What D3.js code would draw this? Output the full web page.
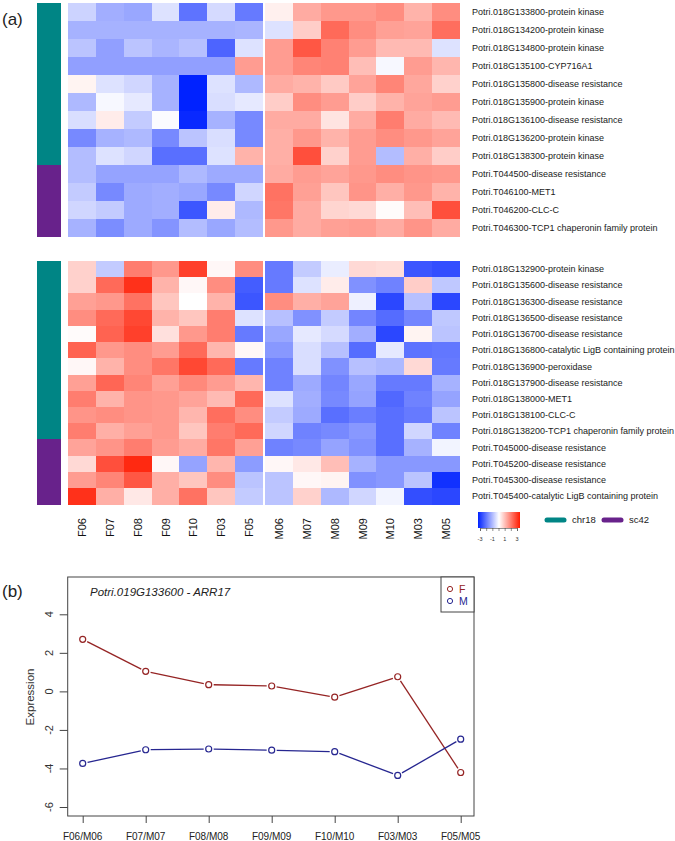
<!DOCTYPE html>
<html><head><meta charset="utf-8">
<script src="https://cdn.jsdelivr.net/npm/d3@7"></script>
<style>body{margin:0;background:#fff} svg{display:block;background:#fff} text{font-family:"Liberation Sans",Arial,Helvetica,sans-serif}</style>
</head><body><svg id="c" width="675" height="841"></svg>
<script>
// ---------------- DATA ----------------
const columns = ["F06","F07","F08","F09","F10","F03","F05","M06","M07","M08","M09","M10","M03","M05"];

const topGenes = [
 "Potri.018G133800-protein kinase","Potri.018G134200-protein kinase","Potri.018G134800-protein kinase",
 "Potri.018G135100-CYP716A1","Potri.018G135800-disease resistance","Potri.018G135900-protein kinase",
 "Potri.018G136100-disease resistance","Potri.018G136200-protein kinase","Potri.018G138300-protein kinase",
 "Potri.T044500-disease resistance","Potri.T046100-MET1","Potri.T046200-CLC-C",
 "Potri.T046300-TCP1 chaperonin family protein"];
const topGroups = ["chr18","chr18","chr18","chr18","chr18","chr18","chr18","chr18","chr18","sc42","sc42","sc42","sc42"];
const topValues = [
 [-0.6,-1.1,-1.2,-0.4,-1.9,-0.5,-1.8, 0.2,1.1,1.35,1.35,1.5,1.0,1.5],
 [-1.05,-1.05,-1.05,-1.05,-1.05,-1.05,-1.0, -0.4,0.65,1.95,1.5,1.25,1.2,1.9],
 [-0.8,-1.3,-0.8,-1.0,-0.85,-2.1,-0.4, 1.3,2.2,1.65,1.3,0.9,0.9,-0.4],
 [-1.3,-1.3,-1.3,-1.3,-1.3,-1.3,1.3, 1.3,1.6,1.65,0.85,-0.1,1.3,0.95],
 [0.15,-0.4,-0.55,-1.05,-3.0,-0.4,-0.95, 1.1,1.0,0.7,1.2,1.6,1.15,0.6],
 [-0.95,-0.1,-0.3,-1.05,-3.0,-0.45,-0.3, 0.65,1.5,1.3,0.65,1.0,1.2,1.3],
 [-0.45,0.25,-0.7,-0.05,-2.9,-1.05,-1.6, 1.1,1.1,0.35,1.1,1.7,1.1,0.9],
 [-1.6,-1.05,-0.95,-1.6,-0.8,-0.45,-1.6, 1.05,1.35,1.0,1.3,1.5,1.35,1.2],
 [-0.9,-0.4,-0.55,-1.95,-1.95,-0.4,1.0, 1.05,2.3,0.6,1.3,-0.9,1.05,0.65],
 [-0.9,-1.25,-1.25,-1.25,-0.95,-1.15,-1.15, 1.1,1.3,1.2,1.35,1.5,1.4,1.35],
 [-0.7,-1.6,-1.15,-1.1,-1.2,-1.6,-0.55, 1.85,1.25,0.75,1.4,1.05,1.35,1.0],
 [-0.55,-0.7,-1.15,-1.1,-2.3,0.25,-0.95, 1.8,1.1,0.55,0.5,0.05,0.85,2.3],
 [-1.05,-1.55,-1.15,-1.45,-0.9,-1.2,-0.9, 1.35,1.1,1.25,1.3,1.1,1.4,1.1]
];

const bottomGenes = [
 "Potri.018G132900-protein kinase","Potri.018G135600-disease resistance","Potri.018G136300-disease resistance",
 "Potri.018G136500-disease resistance","Potri.018G136700-disease resistance",
 "Potri.018G136800-catalytic LigB containing protein","Potri.018G136900-peroxidase",
 "Potri.018G137900-disease resistance","Potri.018G138000-MET1","Potri.018G138100-CLC-C",
 "Potri.018G138200-TCP1 chaperonin family protein","Potri.T045000-disease resistance",
 "Potri.T045200-disease resistance","Potri.T045300-disease resistance",
 "Potri.T045400-catalytic LigB containing protein"];
const bottomGroups = ["chr18","chr18","chr18","chr18","chr18","chr18","chr18","chr18","chr18","chr18","chr18","sc42","sc42","sc42","sc42"];
const bottomValues = [
 [0.6,-0.7,1.7,1.35,2.5,0.1,1.5, -1.8,-0.7,-0.25,0.5,0.45,-2.3,-2.4],
 [0.6,1.95,2.7,1.0,0.1,1.5,-2.2, -1.8,-0.4,0.25,-1.5,-1.7,0.65,-0.75],
 [1.25,1.35,1.85,0.75,0.0,1.0,-2.3, 1.5,1.05,1.2,-0.2,-2.5,-0.85,-2.5],
 [1.5,1.95,2.4,1.0,0.75,1.7,-0.4, -0.85,-1.5,-0.7,-1.65,-2.0,-1.65,-0.75],
 [0.05,2.05,2.5,0.4,1.35,1.7,-1.8, -1.2,-0.3,-0.5,-1.1,-2.5,0.15,-0.8],
 [2.05,1.35,1.5,1.3,1.95,0.95,0.1, -1.4,-0.45,-0.85,-2.0,-0.3,-1.9,-1.85],
 [0.1,1.0,1.5,1.8,2.4,1.95,-1.8, -1.7,-0.45,-1.5,-0.85,-0.95,0.5,-1.8],
 [1.25,2.0,1.6,1.25,1.55,1.3,0.95, -1.7,-1.15,-1.65,-1.2,-1.8,-1.8,-1.05],
 [1.7,1.0,1.4,1.35,1.2,0.9,1.95, -0.4,-1.1,-1.6,-1.25,-2.05,-1.7,-1.25],
 [1.4,1.5,1.4,1.35,0.95,1.9,1.5, -0.7,-1.15,-1.95,-1.75,-1.95,-1.8,-0.8],
 [1.7,1.05,1.25,1.35,0.75,1.7,1.95, -0.55,-1.7,-1.6,-1.4,-1.95,-0.55,-1.7],
 [1.2,1.4,1.7,1.3,1.1,1.8,1.25, -1.7,-1.6,-1.25,-1.5,-1.95,-1.05,-0.15],
 [0.5,2.3,2.8,0.1,-1.25,0.95,-1.35, 0.1,0.3,0.85,-1.05,-1.4,-1.4,-1.4],
 [1.3,1.6,2.2,1.05,0.75,1.5,-0.8, -0.8,0.1,0.15,-1.5,-1.4,-0.8,-2.8],
 [2.7,1.05,0.3,1.05,1.85,0.75,-0.7, -0.8,0.6,-0.95,-0.55,-0.15,-2.4,-2.5]
];

const groupNames = ["chr18","sc42"];
const colorTicks = [-3,-1,1,3];

const pairLabels = ["F06/M06","F07/M07","F08/M08","F09/M09","F10/M10","F03/M03","F05/M05"];
const femaleExpr = [2.70,1.04,0.35,0.28,-0.30,0.76,-4.21];
const maleExpr   = [-3.74,-3.03,-2.99,-3.05,-3.13,-4.36,-2.48];
const yTicks = [-6,-4,-2,0,2,4];
const seriesNames = ["F","M"];

// ---------------- DRAW ----------------
const svg = d3.select("#c");
const heatColor = d3.scaleLinear().domain([-3,0,3]).range(["#0022ff","#ffffff","#ff1a00"]).clamp(true);
const groupColor = d3.scaleOrdinal().domain(groupNames).range(["#008585","#68228b"]);

const colGap = 2;
const x = d3.scaleBand().domain(columns).range([68, 458]).padding(0);
const colX = c => x(c) + (columns.indexOf(c) >= 7 ? colGap : 0);

function drawHeat(genes, groups, values, y0, y1) {
  const y = d3.scaleBand().domain(genes).range([y0, y1]).padding(0);
  const g = svg.append("g");
  g.selectAll("rect.ann").data(genes).join("rect")
    .attr("x", 37).attr("width", 24)
    .attr("y", d => y(d)).attr("height", y.bandwidth() + 0.5)
    .attr("fill", (d,i) => groupColor(groups[i]))
    .attr("shape-rendering","crispEdges");
  const cells = [];
  values.forEach((row, i) => row.forEach((v, j) => cells.push({gene: genes[i], col: columns[j], v})));
  g.selectAll("rect.cell").data(cells).join("rect")
    .attr("x", d => colX(d.col)).attr("width", x.bandwidth() + 0.3)
    .attr("y", d => y(d.gene)).attr("height", y.bandwidth() + 0.3)
    .attr("fill", d => heatColor(d.v))
    .attr("shape-rendering","crispEdges");
  g.selectAll("text.lab").data(genes).join("text")
    .attr("x", 472).attr("y", d => y(d) + y.bandwidth()/2)
    .attr("dy", "0.35em").attr("font-size", 9).attr("fill", "#1a1a1a")
    .text(d => d);
  return y;
}
drawHeat(topGenes, topGroups, topValues, 2.7, 236.7);
drawHeat(bottomGenes, bottomGroups, bottomValues, 261, 504.3);

// column labels
svg.append("g").selectAll("text").data(columns).join("text")
  .attr("transform", d => `translate(${colX(d) + x.bandwidth()/2 + 4},518) rotate(-90)`)
  .attr("text-anchor", "end").attr("font-size", 11).attr("fill", "#111")
  .text(d => d);

// color legend
const defs = svg.append("defs");
const grad = defs.append("linearGradient").attr("id","hg");
[-3,-1.5,0,1.5,3].forEach((v,i) => grad.append("stop").attr("offset", (i*25)+"%").attr("stop-color", heatColor(v)));
svg.append("rect").attr("x",478).attr("y",512).attr("width",42).attr("height",16).attr("fill","url(#hg)");
const lx = d3.scaleLinear().domain([-3,3]).range([480,517]);
const lAxis = svg.append("g").attr("transform","translate(0,528)")
  .call(d3.axisBottom(lx).tickValues(d3.range(-3,3.01,1)).tickSize(3).tickFormat(""));
lAxis.select(".domain").attr("stroke","#444").attr("stroke-width",0.6);
lAxis.selectAll(".tick line").attr("stroke","#444").attr("stroke-width",0.6);
svg.append("g").selectAll("text").data(colorTicks).join("text")
  .attr("x", d => lx(d)).attr("y", 541).attr("text-anchor","middle")
  .attr("font-size", 5.5).attr("fill","#333").text(d => d);

// group legend
const gl = svg.append("g");
[[545,572],[602,629]].forEach((p,i) => {
  gl.append("line").attr("x1",p[0]+2).attr("x2",p[0]+19).attr("y1",520).attr("y2",520)
    .attr("stroke", groupColor(groupNames[i])).attr("stroke-width",5).attr("stroke-linecap","round");
  gl.append("text").attr("x",p[1]).attr("y",520).attr("dy","0.35em").attr("font-size",9.5)
    .attr("fill","#222").text(groupNames[i]);
});

// panel labels
svg.append("text").attr("x",2).attr("y",25).attr("font-size",17).attr("fill","#222").text("(a)");
svg.append("text").attr("x",2).attr("y",597).attr("font-size",17).attr("fill","#222").text("(b)");

// ---------------- panel b ----------------
const px = d3.scalePoint().domain(pairLabels).range([82.7, 460.7]);
const py = d3.scaleLinear().domain([-6,4]).range([807, 614.3]);
const box = {x0:67.7, x1:474, y0:577, y1:816};
const pb = svg.append("g");
pb.append("rect").attr("x",box.x0).attr("y",box.y0).attr("width",box.x1-box.x0).attr("height",box.y1-box.y0)
  .attr("fill","none").attr("stroke","#444").attr("stroke-width",1);

const yAx = pb.append("g").attr("transform",`translate(${box.x0},0)`)
  .call(d3.axisLeft(py).tickValues(yTicks).tickSize(8).tickFormat(""));
yAx.select(".domain").remove();
yAx.selectAll(".tick line").attr("stroke","#444");
pb.append("g").selectAll("text").data(yTicks).join("text")
  .attr("transform", d => `translate(53,${py(d)}) rotate(-90)`)
  .attr("text-anchor","middle").attr("font-size",11).attr("fill","#333").text(d => d);

const xAx = pb.append("g").attr("transform",`translate(0,${box.y1})`)
  .call(d3.axisBottom(px).tickSize(7).tickFormat(""));
xAx.select(".domain").remove();
xAx.selectAll(".tick line").attr("stroke","#444");
pb.append("g").selectAll("text").data(pairLabels).join("text")
  .attr("x", d => px(d)).attr("y", 840).attr("text-anchor","middle")
  .attr("font-size",10).attr("fill","#222").text(d => d);

pb.append("text").attr("transform","translate(34,697) rotate(-90)").attr("text-anchor","middle")
  .attr("font-size",11.5).attr("fill","#333").text("Expression");

pb.append("text").attr("x",90).attr("y",596).attr("font-size",11.5).attr("font-style","italic")
  .attr("fill","#222").text("Potri.019G133600 - ARR17");

const series = [{name:"F", vals:femaleExpr, color:"#952424"},{name:"M", vals:maleExpr, color:"#262690"}];
series.forEach(s => {
  const pts = s.vals.map((v,i) => [px(pairLabels[i]), py(v)]);
  for (let i = 0; i < pts.length-1; i++) {
    const [xa,ya] = pts[i], [xb,yb] = pts[i+1];
    const L = Math.hypot(xb-xa, yb-ya), gap = 5;
    const ux = (xb-xa)/L, uy = (yb-ya)/L;
    pb.append("line").attr("x1", xa+ux*gap).attr("y1", ya+uy*gap)
      .attr("x2", xb-ux*gap).attr("y2", yb-uy*gap)
      .attr("stroke", s.color).attr("stroke-width",1.3);
  }
  pb.append("g").selectAll("circle").data(s.vals).join("circle")
    .attr("cx",(d,i) => px(pairLabels[i])).attr("cy", d => py(d)).attr("r",3)
    .attr("fill","none").attr("stroke",s.color).attr("stroke-width",1.2);
});

// legend for panel b
const lg = pb.append("g");
lg.append("rect").attr("x",441).attr("y",box.y0).attr("width",box.x1-441).attr("height",35)
  .attr("fill","#fff").attr("stroke","#444").attr("stroke-width",1);
series.forEach((s,i) => {
  const yy = 589 + i*12;
  lg.append("circle").attr("cx",450).attr("cy",yy).attr("r",2.6).attr("fill","none").attr("stroke",s.color).attr("stroke-width",1);
  lg.append("text").attr("x",459).attr("y",yy).attr("dy","0.35em").attr("font-size",10.5).attr("fill",s.color).text(s.name);
});
</script></body></html>
